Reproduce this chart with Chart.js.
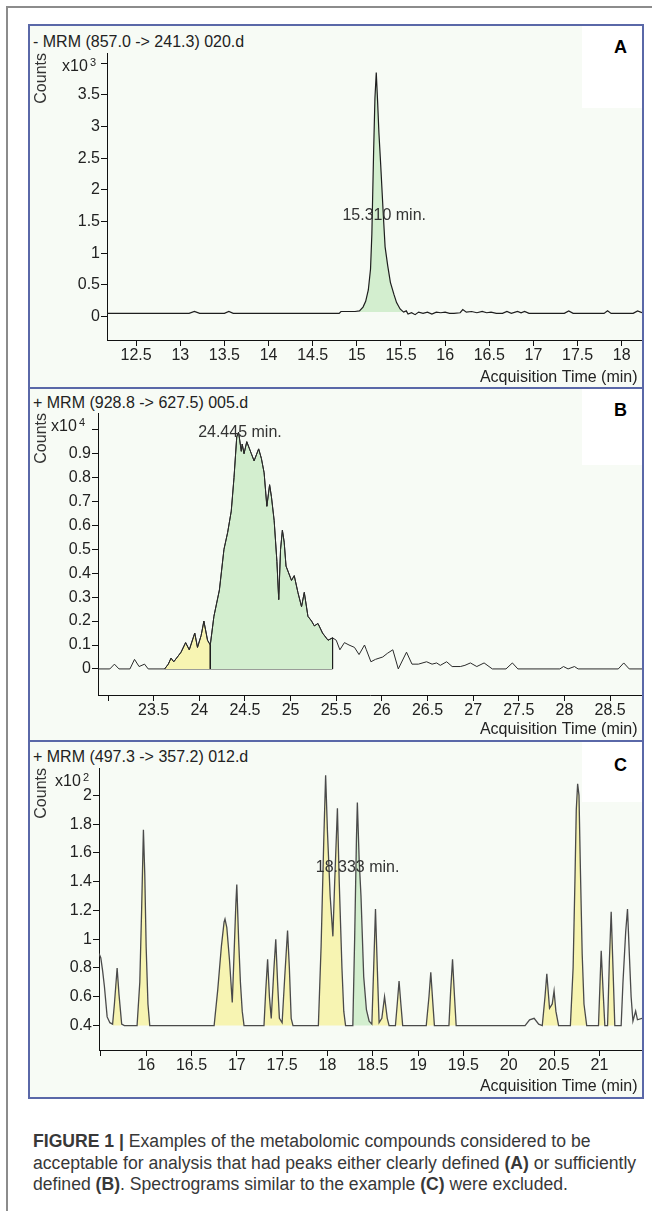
<!DOCTYPE html>
<html>
<head>
<meta charset="utf-8">
<script src="https://cdn.jsdelivr.net/npm/chart.js@4.4.1/dist/chart.umd.min.js"></script>
<style>
  html, body { margin: 0; padding: 0; background: #fff; }
  body { width: 652px; height: 1211px; position: relative; overflow: hidden; font-family: "Liberation Sans", Arial, sans-serif; }
  .frame { position: absolute; left: 6px; top: 6px; width: 700px; height: 1300px; border-left: 2px solid #8c8c8c; border-top: 2px solid #8c8c8c; }
  .panel { position: absolute; left: 28px; width: 616px; box-sizing: border-box; border: 2px solid #5a68a8; background: #f7fbf5; }
  .blank { position: absolute; background: #fff; }
  .head { position: absolute; left: 33px; font-size: 16px; line-height: 1; color: #222; white-space: nowrap; }
  .tag { position: absolute; font-size: 18px; line-height: 1; font-weight: bold; color: #000; }
  canvas { position: absolute; }
  .caption { position: absolute; left: 33px; top: 1131px; font-size: 17.6px; line-height: 21.5px; color: #383838; white-space: nowrap; }
</style>
</head>
<body>
<div class="frame"></div>

<div class="panel" style="top:24px;height:365px;"></div>
<div class="panel" style="top:387px;height:355px;"></div>
<div class="panel" style="top:740px;height:359px;"></div>
<div class="blank" style="left:582px;top:26px;width:60px;height:82px;"></div>
<div class="blank" style="left:582px;top:389px;width:60px;height:76px;"></div>
<div class="blank" style="left:582px;top:742px;width:60px;height:60px;"></div>

<div class="head" style="top:34px;">- MRM (857.0 -&gt; 241.3) 020.d</div>
<div class="head" style="top:395px;">+ MRM (928.8 -&gt; 627.5) 005.d</div>
<div class="head" style="top:749px;">+ MRM (497.3 -&gt; 357.2) 012.d</div>
<div class="tag" style="left:614px;top:38px;">A</div>
<div class="tag" style="left:614px;top:401px;">B</div>
<div class="tag" style="left:614px;top:756px;">C</div>

<canvas id="chartA" width="612" height="361" style="left:30px;top:26px;"></canvas>
<canvas id="chartB" width="612" height="351" style="left:30px;top:389px;"></canvas>
<canvas id="chartC" width="612" height="355" style="left:30px;top:742px;"></canvas>

<div class="caption"><b>FIGURE 1 |</b> Examples of the metabolomic compounds considered to be<br>acceptable for analysis that had peaks either clearly defined <b>(A)</b> or sufficiently<br>defined <b>(B)</b>. Spectrograms similar to the example <b>(C)</b> were excluded.</div>

<script>
// ---- panel A : - MRM (857.0 -> 241.3), counts x10^3
const timeA = [12.17, 13.10, 13.16, 13.22, 13.50, 13.55, 13.60, 14.80, 14.82, 14.98,
  15.03, 15.07, 15.10, 15.13, 15.155, 15.17, 15.19, 15.205, 15.22, 15.235,
  15.25, 15.27, 15.30, 15.32, 15.35, 15.38, 15.42, 15.45, 15.49, 15.53,
  15.56, 15.58, 15.62, 15.66, 15.70, 15.75, 15.80, 15.85, 15.90, 15.95,
  16.00, 16.05, 16.10, 16.17, 16.20, 16.24, 16.30, 16.36, 16.42, 16.47,
  16.52, 16.58, 16.65, 16.70, 16.75, 16.82, 16.86, 16.90, 16.95, 17.35,
  17.40, 17.45, 17.80, 17.84, 17.88, 18.13, 18.18, 18.23];
const countsA = [0.05, 0.05, 0.08, 0.05, 0.05, 0.08, 0.05, 0.05, 0.08, 0.08,
  0.09, 0.15, 0.24, 0.42, 0.75, 1.3, 2.6, 3.45, 3.85, 3.4,
  2.9, 2.4, 1.6, 1.1, 0.8, 0.54, 0.35, 0.22, 0.12, 0.07,
  0.09, 0.04, 0.06, 0.03, 0.07, 0.05, 0.07, 0.04, 0.07, 0.06,
  0.07, 0.05, 0.05, 0.06, 0.11, 0.07, 0.08, 0.06, 0.08, 0.06,
  0.07, 0.05, 0.05, 0.08, 0.05, 0.08, 0.06, 0.08, 0.05, 0.05,
  0.09, 0.05, 0.05, 0.09, 0.05, 0.05, 0.09, 0.06];
const greenA = [[15.03, 15.53]];
const baseA = 0.07;
const xRangeA = [12.17, 18.23];
const yRangeA = [-0.37, 4.16];
const xTicksA = [12.5, 13, 13.5, 14, 14.5, 15, 15.5, 16, 16.5, 17, 17.5, 18];
const yTicksA = [0, 0.5, 1, 1.5, 2, 2.5, 3, 3.5, 4];
const rtA = [15.31, 1.6, '15.310 min.'];

// ---- panel B : + MRM (928.8 -> 627.5), counts x10^4
const timeB = [22.89, 23.02, 23.07, 23.12, 23.24, 23.29, 23.34, 23.40, 23.44, 23.62,
  23.66, 23.69, 23.72, 23.76, 23.80, 23.85, 23.89, 23.95, 23.98, 24.02,
  24.05, 24.09, 24.12, 24.16, 24.22, 24.27, 24.31, 24.35, 24.38, 24.41,
  24.43, 24.46, 24.47, 24.49, 24.52, 24.57, 24.60, 24.65, 24.68, 24.71,
  24.74, 24.77, 24.79, 24.82, 24.85, 24.87, 24.89, 24.91, 24.93, 24.95,
  25.01, 25.04, 25.08, 25.12, 25.15, 25.19, 25.23, 25.26, 25.30, 25.35,
  25.41, 25.46, 25.50, 25.54, 25.59, 25.64, 25.70, 25.75, 25.81, 25.83,
  25.88, 25.93, 26.01, 26.06, 26.12, 26.18, 26.27, 26.33, 26.40, 26.49,
  26.55, 26.60, 26.64, 26.71, 26.77, 26.86, 26.91, 26.97, 27.04, 27.12,
  27.21, 27.36, 27.43, 27.49, 27.95, 27.99, 28.04, 28.11, 28.15, 28.59,
  28.65, 28.71, 28.85];
const countsB = [0.00, 0.00, 0.02, 0.00, 0.00, 0.04, 0.01, 0.02, 0.00, 0.00,
  0.02, 0.045, 0.03, 0.05, 0.07, 0.11, 0.08, 0.15, 0.09, 0.14,
  0.20, 0.12, 0.10, 0.22, 0.33, 0.50, 0.57, 0.66, 0.80, 0.97,
  0.99, 0.91, 0.94, 0.90, 0.95, 0.90, 0.87, 0.92, 0.88, 0.82,
  0.68, 0.77, 0.72, 0.62, 0.45, 0.29, 0.50, 0.58, 0.53, 0.43,
  0.37, 0.39, 0.32, 0.26, 0.32, 0.22, 0.20, 0.18, 0.19, 0.15,
  0.12, 0.13, 0.12, 0.08, 0.11, 0.10, 0.09, 0.06, 0.10, 0.08,
  0.03, 0.04, 0.05, 0.065, 0.08, 0.00, 0.07, 0.02, 0.02, 0.03,
  0.02, 0.025, 0.015, 0.03, 0.01, 0.01, 0.015, 0.025, 0.01, 0.025,
  0.00, 0.00, 0.025, 0.00, 0.00, 0.01, 0.00, 0.01, 0.00, 0.00,
  0.025, 0.00, 0.00];
const yellowB = [[23.62, 24.12]];
const greenB = [[24.12, 25.46]];
const baseB = 0;
const xRangeB = [22.89, 28.85];
const yRangeB = [-0.109, 1.07];
const xTicksB = [23, 23.5, 24, 24.5, 25, 25.5, 26, 26.5, 27, 27.5, 28, 28.5];
const yTicksB = [0, 0.1, 0.2, 0.3, 0.4, 0.5, 0.6, 0.7, 0.8, 0.9, 1];
const rtB = [24.445, 0.99, '24.445 min.'];

// ---- panel C : + MRM (497.3 -> 357.2), counts x10^2
const timeC = [15.48, 15.50, 15.52, 15.54, 15.57, 15.60, 15.63, 15.65, 15.68, 15.70,
  15.73, 15.76, 15.90, 15.93, 15.95, 15.97, 15.985, 16.00, 16.02, 16.04,
  16.75, 16.79, 16.83, 16.86, 16.87, 16.89, 16.92, 16.95, 16.97, 16.99,
  17.00, 17.02, 17.04, 17.06, 17.08, 17.30, 17.32, 17.34, 17.36, 17.38,
  17.41, 17.43, 17.45, 17.47, 17.50, 17.53, 17.56, 17.58, 17.60, 17.62,
  17.90, 17.93, 17.96, 17.98, 18.00, 18.03, 18.06, 18.08, 18.11, 18.13,
  18.16, 18.18, 18.20, 18.28, 18.30, 18.32, 18.33, 18.35, 18.37, 18.40,
  18.43, 18.46, 18.49, 18.51, 18.53, 18.55, 18.57, 18.60, 18.63, 18.66,
  18.68, 18.75, 18.77, 18.79, 18.81, 18.83, 19.09, 19.12, 19.14, 19.16,
  19.18, 19.34, 19.36, 19.38, 19.40, 19.42, 20.18, 20.23, 20.28, 20.33,
  20.37, 20.40, 20.42, 20.45, 20.48, 20.50, 20.52, 20.55, 20.68, 20.71,
  20.73, 20.745, 20.76, 20.775, 20.79, 20.81, 20.83, 20.86, 20.99, 21.01,
  21.02, 21.04, 21.06, 21.09, 21.11, 21.13, 21.15, 21.17, 21.24, 21.26,
  21.29, 21.31, 21.33, 21.35, 21.37, 21.40, 21.42, 21.47];
const countsC = [0.90, 0.87, 0.78, 0.67, 0.46, 0.42, 0.41, 0.55, 0.80, 0.62,
  0.41, 0.40, 0.40, 0.70, 1.20, 1.76, 1.45, 0.95, 0.55, 0.40,
  0.40, 0.65, 0.95, 1.12, 1.14, 1.08, 0.85, 0.56, 0.90, 1.25,
  1.38, 1.00, 0.70, 0.50, 0.40, 0.40, 0.65, 0.86, 0.60, 0.45,
  0.80, 1.00, 0.70, 0.45, 0.42, 0.75, 1.06, 0.80, 0.45, 0.40,
  0.40, 0.95, 1.70, 2.14, 1.75, 1.30, 1.02, 1.40, 1.91, 1.40,
  0.80, 0.50, 0.40, 0.40, 1.00, 1.70, 1.95, 1.55, 1.30, 0.74,
  0.51, 0.43, 0.41, 0.80, 1.21, 0.80, 0.42, 0.45, 0.60, 0.45,
  0.40, 0.40, 0.55, 0.71, 0.55, 0.40, 0.40, 0.60, 0.77, 0.58,
  0.40, 0.40, 0.65, 0.86, 0.62, 0.40, 0.40, 0.44, 0.45, 0.41,
  0.40, 0.60, 0.76, 0.52, 0.55, 0.64, 0.50, 0.40, 0.40, 0.80,
  1.40, 1.90, 2.08, 2.00, 1.50, 0.90, 0.55, 0.40, 0.40, 0.75,
  0.92, 0.65, 0.40, 0.40, 0.85, 1.19, 0.80, 0.40, 0.40, 0.70,
  1.05, 1.21, 0.90, 0.60, 0.43, 0.50, 0.44, 0.45];
const yellowC = [[15.63, 15.73], [15.90, 16.04], [16.75, 17.08], [17.30, 17.62], [17.90, 18.20],
  [18.49, 18.57], [18.57, 18.68], [18.75, 18.83], [19.09, 19.18], [19.34, 19.42],
  [20.37, 20.55], [20.68, 20.86], [20.99, 21.06], [21.09, 21.17]];
const greenC = [[18.28, 18.49]];
const baseC = 0.40;
const xRangeC = [15.48, 21.47];
const yRangeC = [0.23, 2.19];
const xTicksC = [15.5, 16, 16.5, 17, 17.5, 18, 18.5, 19, 19.5, 20, 20.5, 21];
const yTicksC = [0.4, 0.6, 0.8, 1, 1.2, 1.4, 1.6, 1.8, 2];
const rtC = [18.333, 1.5, '18.333 min.'];

const FONT = "'Liberation Sans', Arial, sans-serif";
const GREEN = '#d3eecf';
const YELLOW = '#f7f4b2';

function pts(xs, ys) {
  return xs.map((x, i) => ({ x: x, y: ys[i] }));
}

// points of the trace inside an integration window, closed down to the baseline
function region(xs, ys, r, base) {
  const inside = pts(xs, ys).filter(p => p.x >= r[0] && p.x <= r[1]);
  return [{ x: r[0], y: base }].concat(inside, [{ x: r[1], y: base }]);
}

// exponent label and retention-time label, drawn through the scales
const mhLabels = {
  id: 'mhLabels',
  afterDatasetsDraw(chart, args, opts) {
    const ctx = chart.ctx;
    const area = chart.chartArea;
    ctx.save();
    ctx.fillStyle = '#222';
    ctx.textBaseline = 'middle';
    ctx.textAlign = 'right';
    const ex = area.left - opts.expGap;
    const ey = area.top + 14;
    ctx.font = '11px ' + FONT;
    ctx.fillText(opts.exp, ex, ey - 4);
    const w = ctx.measureText(opts.exp).width;
    ctx.font = '16px ' + FONT;
    ctx.fillText('x10', ex - w - 2, ey);
    const rt = opts.rt;
    ctx.fillStyle = '#333';
    ctx.textAlign = 'center';
    ctx.fillText(rt[2], chart.scales.x.getPixelForValue(rt[0]), chart.scales.y.getPixelForValue(rt[1]));
    ctx.restore();
  }
};

function makeChart(id, p) {
  const datasets = [{
    data: pts(p.xs, p.ys),
    borderColor: p.lineColor,
    borderWidth: p.lineWidth,
    fill: false
  }];
  p.regions.forEach(g => {
    g.ranges.forEach(r => {
      datasets.push({
        data: region(p.xs, p.ys, r, p.base),
        borderColor: '#1e1e1e',
        borderWidth: g.border ? 1 : 0,
        backgroundColor: g.color,
        fill: { value: p.base }
      });
    });
  });
  if (p.baseLine) {
    datasets.push({
      data: [{ x: p.baseLine[0], y: p.base }, { x: p.baseLine[1], y: p.base }],
      borderColor: '#1e1e1e',
      borderWidth: 1,
      fill: false
    });
  }
  const tickFont = { family: FONT, size: 16 };
  return new Chart(document.getElementById(id), {
    type: 'line',
    data: { datasets: datasets },
    options: {
      responsive: false,
      animation: false,
      events: [],
      layout: { padding: { top: p.padTop, right: 0, bottom: 0, left: 0 } },
      elements: { point: { radius: 0 }, line: { tension: 0 } },
      plugins: {
        legend: { display: false },
        tooltip: { enabled: false },
        mhLabels: { exp: p.exp, expGap: p.expGap, rt: p.rt }
      },
      scales: {
        x: {
          type: 'linear',
          min: p.xRange[0],
          max: p.xRange[1],
          afterBuildTicks: s => { s.ticks = p.xTicks.map(v => ({ value: v })); },
          afterFit: s => { s.height = p.xHeight; },
          ticks: {
            autoSkip: false, maxRotation: 0, padding: 0, color: '#222', font: tickFont,
            callback: v => (v === p.xTicks[0] && p.hideFirstX) ? '' : String(v)
          },
          grid: { drawOnChartArea: false, tickLength: 6, color: '#111', tickColor: '#111' },
          border: { display: true, color: '#111', width: 1 },
          title: {
            display: true, text: 'Acquisition Time (min) ', align: 'end', color: '#222',
            font: tickFont, padding: { top: 0, bottom: p.titlePad }
          }
        },
        y: {
          type: 'linear',
          min: p.yRange[0],
          max: p.yRange[1],
          afterBuildTicks: s => { s.ticks = p.yTicks.map(v => ({ value: v })); },
          afterFit: s => { s.width = p.yWidth; },
          ticks: {
            autoSkip: false, padding: 1, color: '#222', font: tickFont,
            callback: v => (v === p.yTicks[p.yTicks.length - 1] && p.hideTopY) ? '' : String(v)
          },
          grid: { drawOnChartArea: false, tickLength: 6, color: '#111', tickColor: '#111' },
          border: { display: true, color: '#111', width: 1 },
          title: {
            display: true, text: 'Counts', align: 'end', color: '#333',
            font: tickFont, padding: { top: 2, bottom: 0 }
          }
        }
      }
    },
    plugins: [mhLabels]
  });
}

makeChart('chartA', {
  xs: timeA, ys: countsA, base: baseA,
  regions: [{ ranges: greenA, color: GREEN, border: false }],
  lineColor: '#1e1e1e', lineWidth: 1.2,
  xRange: xRangeA, yRange: yRangeA, xTicks: xTicksA, yTicks: yTicksA,
  hideFirstX: false, hideTopY: true,
  padTop: 27, yWidth: 77, xHeight: 47, titlePad: 0,
  exp: '3', expGap: 11, rt: rtA
});

makeChart('chartB', {
  xs: timeB, ys: countsB, base: baseB,
  regions: [{ ranges: yellowB, color: YELLOW, border: true }, { ranges: greenB, color: GREEN, border: true }],
  baseLine: [yellowB[0][0], greenB[0][1]],
  lineColor: '#2a2a2a', lineWidth: 1,
  xRange: xRangeB, yRange: yRangeB, xTicks: xTicksB, yTicks: yTicksB,
  hideFirstX: true, hideTopY: true,
  padTop: 24, yWidth: 68, xHeight: 45, titlePad: 1,
  exp: '4', expGap: 13, rt: rtB
});

makeChart('chartC', {
  xs: timeC, ys: countsC, base: baseC,
  regions: [{ ranges: yellowC, color: YELLOW, border: false }, { ranges: greenC, color: GREEN, border: false }],
  lineColor: '#4a4a4a', lineWidth: 1.3,
  xRange: xRangeC, yRange: yRangeC, xTicks: xTicksC, yTicks: yTicksC,
  hideFirstX: true, hideTopY: false,
  padTop: 26, yWidth: 69, xHeight: 47, titlePad: 1,
  exp: '2', expGap: 10, rt: rtC
});
</script>
</body>
</html>
